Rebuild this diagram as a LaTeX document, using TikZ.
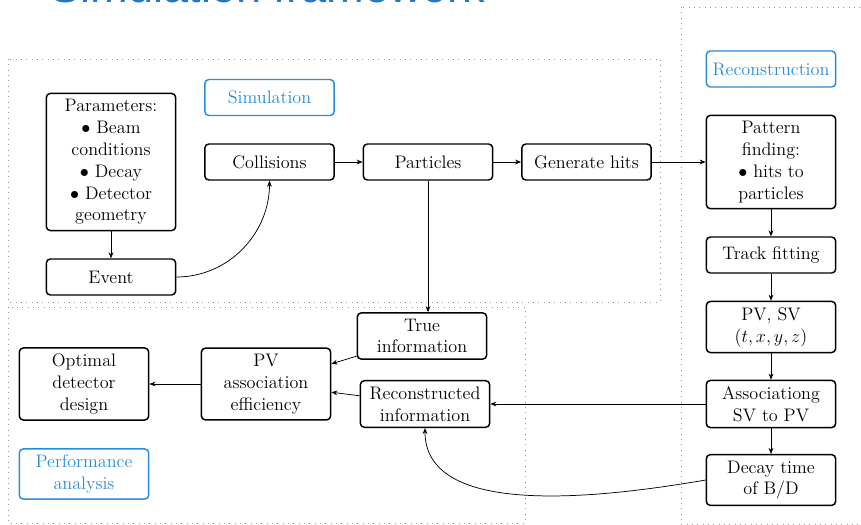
\documentclass[tikz,border=0pt]{standalone}
\usepackage{fix-cm}
\usepackage{fontspec}
\newfontfamily\titlefont{Liberation Sans}
\usetikzlibrary{arrows.meta}
\definecolor{boxblue}{RGB}{40,140,215}
\definecolor{titleblue}{RGB}{35,120,195}
\definecolor{framegray}{RGB}{150,150,150}
\tikzset{every picture/.style={line width=0.55pt}}
\tikzset{
  blk/.style={draw, rounded corners=3pt, line width=1.1pt, minimum width=97pt, minimum height=27pt, align=center, inner sep=4.5pt},
  lbl/.style={blk, draw=boxblue, text=boxblue},
  frm/.style={draw=framegray, line width=0.5pt, dash pattern=on 0.75pt off 3.25pt},
  arr/.style={-{Stealth[length=4.5pt,width=3.6pt]}},
}
\begin{document}
\begin{tikzpicture}[x=0.75pt,y=0.75pt,yscale=-1,xscale=1,font=\fontsize{13.6}{16.35}\selectfont]
  \useasboundingbox (0,0) rectangle (861,525);
  % frames
  \draw [frm] (8,59) rectangle (660,302);
  \draw [frm] (8,307) rectangle (525,523);
  \draw [frm] (681,7) rectangle (875,524);
  % title
  \node [anchor=base west, inner sep=0pt, text=titleblue, font=\titlefont\fontsize{33.9}{40}\selectfont] (title) at (50,2.5) {Simulation framework};
  % simulation
  \node [lbl] (simlbl) at (269.5,97.5) {Simulation};
  \node [blk] (params) at (111,162) {Parameters:\\ $\bullet$ Beam\\ conditions\\ $\bullet$ Decay\\ $\bullet$ Detector\\ geometry};
  \node [blk] (event) at (111,277) {Event};
  \node [blk] (coll) at (269.5,162) {Collisions};
  \node [blk] (part) at (428,162) {Particles};
  \node [blk] (hits) at (586.5,162) {Generate hits};
  % reconstruction
  \node [lbl] (recolbl) at (771,69) {Reconstruction};
  \node [blk] (patt) at (771,162) {Pattern\\ finding:\\ $\bullet$ hits to\\ particles};
  \node [blk] (track) at (771,255) {Track fitting};
  \node [blk] (pvsv) at (771,327) {PV, SV\\ $(t,x,y,z)$};
  \node [blk] (assoc) at (771,404) {Associationg\\ SV to PV};
  \node [blk] (decay) at (771,480) {Decay time\\ of B/D};
  % performance analysis
  \node [blk] (trueinfo) at (422,336) {True\\ information};
  \node [blk] (recoinfo) at (425,404) {Reconstructed\\ information};
  \node [blk] (eff) at (266,384) {PV\\ association\\ efficiency};
  \node [blk] (optim) at (84,384) {Optimal\\ detector\\ design};
  \node [lbl] (perflbl) at (84,474) {Performance\\ analysis};
  % connectors
  \draw [arr] (params) -- (event);
  \draw [arr] (event.east) to[out=0,in=90] (coll.south);
  \draw [arr] (coll) -- (part);
  \draw [arr] (part) -- (hits);
  \draw [arr] (hits) -- (patt);
  \draw [arr] (part.south) -- (part.south |- trueinfo.north);
  \draw [arr] (patt) -- (track);
  \draw [arr] (track) -- (pvsv);
  \draw [arr] (pvsv) -- (assoc);
  \draw [arr] (assoc) -- (decay);
  \draw [arr] (assoc) -- (recoinfo);
  \draw [arr] (decay.west) .. controls +(-116,20) and +(0,88) .. (recoinfo.south);
  \draw [arr] (trueinfo) -- (eff);
  \draw [arr] (recoinfo) -- (eff);
  \draw [arr] (eff) -- (optim);
\end{tikzpicture}
\end{document}
